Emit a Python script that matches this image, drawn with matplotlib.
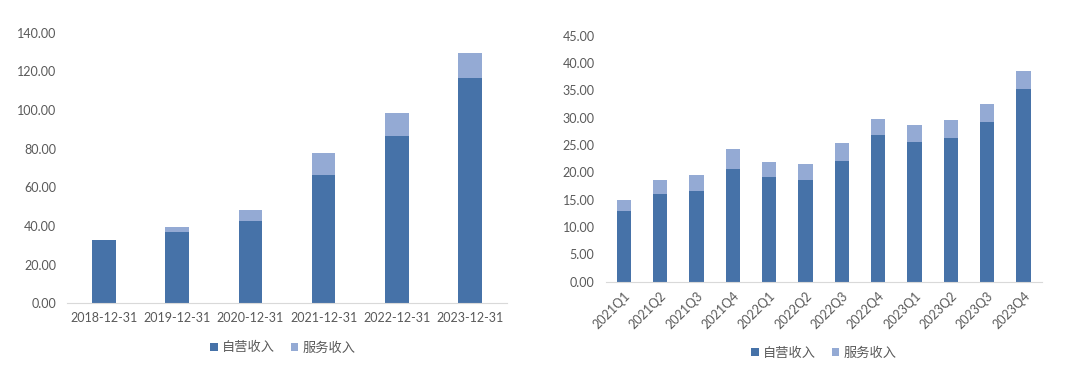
import matplotlib
matplotlib.use("Agg")
import matplotlib.pyplot as plt
import numpy as np

plt.rcParams['font.family'] = ['Lato', 'Noto Sans CJK SC', 'DejaVu Sans']

# annual data
years = ['2018-12-31', '2019-12-31', '2020-12-31', '2021-12-31', '2022-12-31', '2023-12-31']
self_year = [32.7, 37.0, 42.4, 66.2, 86.7, 116.4]
service_year = [0.0, 2.3, 5.9, 11.4, 11.6, 13.1]

# quarterly data
quarters = ['2021Q1', '2021Q2', '2021Q3', '2021Q4', '2022Q1', '2022Q2',
            '2022Q3', '2022Q4', '2023Q1', '2023Q2', '2023Q3', '2023Q4']
self_q = [13.0, 16.0, 16.65, 20.7, 19.1, 18.55, 22.15, 26.85, 25.6, 26.35, 29.3, 35.2]
service_q = [1.95, 2.6, 2.9, 3.6, 2.85, 2.9, 3.15, 2.9, 3.05, 3.15, 3.15, 3.4]

series_names = ['自营收入', '服务收入']
c_dark = '#4672A8'
c_light = '#94AAD4'
txt = '#595959'

fig = plt.figure(figsize=(10.8, 3.7), dpi=100)


def draw(ax, cats, a, b, width, ymax, step, rot):
    x = np.arange(len(cats))
    ax.bar(x, a, width, color=c_dark, label=series_names[0])
    ax.bar(x, b, width, bottom=a, color=c_light, label=series_names[1])
    ax.set_xlim(-0.5, len(cats) - 0.5)
    ax.set_ylim(0, ymax)
    ax.set_yticks(np.arange(0, ymax + 0.01, step))
    ax.set_yticklabels(['%.2f' % v for v in np.arange(0, ymax + 0.01, step)])
    ax.set_xticks(x)
    if rot:
        ax.set_xticklabels(cats, rotation=45, ha='right', rotation_mode='anchor')
    else:
        ax.set_xticklabels(cats)
    for s in ['top', 'right', 'left']:
        ax.spines[s].set_visible(False)
    ax.spines['bottom'].set_color('#D9D9D9')
    ax.tick_params(axis='both', length=0, colors=txt, labelsize=9)
    ax.tick_params(axis='y', pad=8)
    ax.tick_params(axis='x', pad=6)


ax1 = fig.add_axes([0.0624, 0.1803, 0.4067, 0.7313])
draw(ax1, years, self_year, service_year, 0.32, 140, 20, False)
ax1.legend(loc='center', bbox_to_anchor=(0.49, -0.165), ncol=2, frameon=False,
           prop={'family': ['Noto Sans CJK SC'], 'size': 9.5}, labelcolor=txt,
           handlelength=0.6, handleheight=0.6, handletextpad=0.3, columnspacing=1.2)

ax2 = fig.add_axes([0.5608, 0.2386, 0.4037, 0.6649])
draw(ax2, quarters, self_q, service_q, 0.39, 45, 5, True)
ax2.legend(loc='center', bbox_to_anchor=(0.5, -0.29), ncol=2, frameon=False,
           prop={'family': ['Noto Sans CJK SC'], 'size': 9.5}, labelcolor=txt,
           handlelength=0.6, handleheight=0.6, handletextpad=0.3, columnspacing=1.2)

fig.savefig('out.png', dpi=100)
